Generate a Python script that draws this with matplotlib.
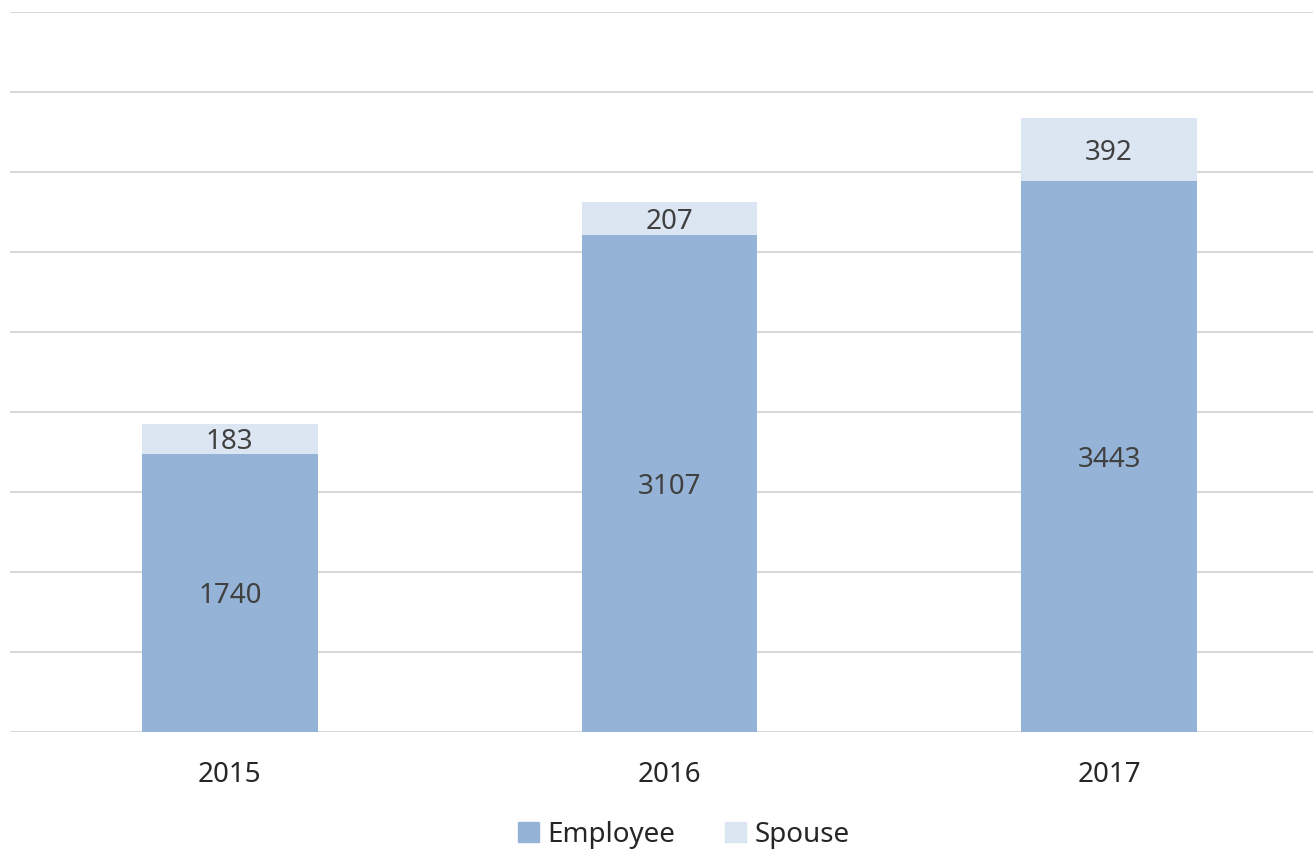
import numpy as np
import matplotlib.pyplot as plt
from matplotlib.patches import Patch

years = ['2015', '2016', '2017']
employee = [1740, 3107, 3443]
spouse = [183, 207, 392]

emp_color = '#95B3D7'
sp_color = '#DCE6F2'
txt_color = '#404040'

plt.rcParams['font.family'] = ['Noto Sans', 'DejaVu Sans']

fig = plt.figure(figsize=(13.13, 8.52), dpi=100)
W, H = 1313, 852
ax = fig.add_axes([10 / W, 1 - 732 / H, (1313 - 10) / W, (732 - 12) / H])

x = np.arange(len(years))
ax.bar(x, employee, width=0.4, color=emp_color, zorder=2)
ax.bar(x, spouse, width=0.4, bottom=employee, color=sp_color, zorder=2)

for i in range(len(years)):
    ax.text(x[i], employee[i] / 2, str(employee[i]), ha='center', va='center_baseline',
            fontsize=20, color=txt_color)
    ax.text(x[i], employee[i] + spouse[i] / 2, str(spouse[i]), ha='center',
            va='center_baseline', fontsize=20, color=txt_color)

ax.set_ylim(0, 4500)
ax.set_yticks(np.arange(0, 4501, 500))
ax.set_xlim(-0.5, 2 + (1313 - 1109) / 440)
ax.grid(axis='y', color='#D9D9D9', linewidth=1.5, zorder=0)
ax.set_xticks(x)
ax.set_xticklabels(years, fontsize=20, color='#262626')
ax.tick_params(axis='x', length=0, pad=21)
ax.tick_params(axis='y', length=0, labelleft=False)
for s in ax.spines.values():
    s.set_visible(False)

handles = [Patch(color=emp_color, label='Employee'), Patch(color=sp_color, label='Spouse')]
fig.legend(handles=handles, loc='center', bbox_to_anchor=(684 / W, 1 - 835 / H), ncol=2,
           frameon=False, fontsize=20, handlelength=0.75, handleheight=0.75,
           handletextpad=0.3, columnspacing=1.8, labelcolor='#262626')

fig.savefig('out.png', dpi=100)
